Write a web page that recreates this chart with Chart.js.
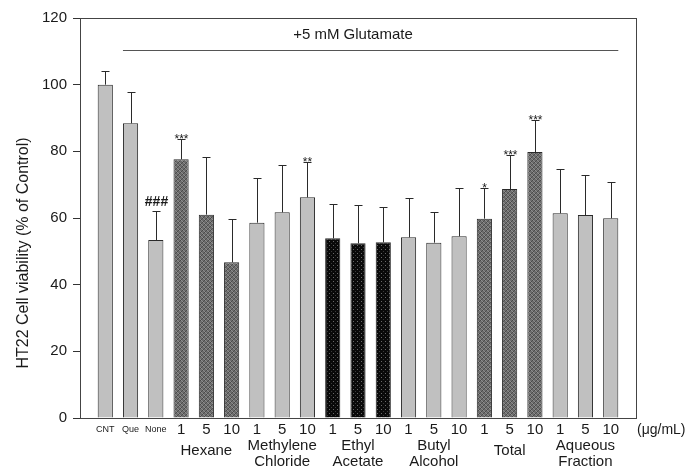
<!DOCTYPE html>
<html>
<head>
<meta charset="utf-8">
<script src="https://cdn.jsdelivr.net/npm/chart.js@4.4.1/dist/chart.umd.min.js"></script>
<style>
  html, body { margin: 0; padding: 0; background: #fff; }
  #wrap { width: 686px; height: 472px; position: relative; }
</style>
</head>
<body>
<div id="wrap"><canvas id="c" width="686" height="472"></canvas></div>
<script>
// ---- data ----
const categories = ['CNT','Que','None','1','5','10','1','5','10','1','5','10','1','5','10','1','5','10','1','5','10'];
const means  = [100, 88.4, 53.4, 77.6, 61.0, 46.7, 58.6, 61.7, 66.2, 53.9, 52.4, 52.7, 54.2, 52.6, 54.5, 59.8, 68.7, 79.8, 61.4, 60.9, 59.9];
const errors = [4.1, 9.3, 8.7, 6.0, 17.3, 13.0, 13.4, 14.1, 10.7, 10.3, 11.4, 10.5, 11.7, 9.3, 14.4, 9.1, 10.1, 9.7, 13.4, 12.1, 10.9];
const marks  = ['', '', '###', '***', '', '', '', '', '**', '', '', '', '', '', '', '*', '***', '***', '', '', ''];
const fillKind = ['gray','gray','gray','hatch','hatch','hatch','gray','gray','gray','dots','dots','dots','gray','gray','gray','hatch','hatch','hatch','gray','gray','gray'];
const groupNames = [['Hexane'], ['Methylene','Chloride'], ['Ethyl','Acetate'], ['Butyl','Alcohol'], ['Total'], ['Aqueous','Fraction']];
const groupCenters = [4, 7, 10, 13, 16, 19];
const yTicks = [0, 20, 40, 60, 80, 100, 120];
const unitLabel = '(\u03bcg/mL)';
const treatmentLabel = '+5 mM Glutamate';
const treatmentSpan = [1, 20];
const treatmentLevel = 110.4;
const yTitle = 'HT22 Cell viability (% of Control)';

// ---- patterns ----
function makePattern(kind) {
  const c = document.createElement('canvas');
  c.width = 4; c.height = 4;
  const g = c.getContext('2d');
  if (kind === 'hatch') {
    g.fillStyle = '#6c6c6c'; g.fillRect(0, 0, 4, 4);
    g.fillStyle = '#4a4a4a';
    [[0,0],[2,2],[3,1],[1,3]].forEach(([x,y]) => g.fillRect(x,y,1,1));
    g.fillStyle = '#8e8e8e';
    [[1,0],[3,2],[2,1],[0,3]].forEach(([x,y]) => g.fillRect(x,y,1,1));
  } else {
    g.fillStyle = '#0a0a0a'; g.fillRect(0, 0, 4, 4);
    g.fillStyle = '#6a6a6a';
    g.fillRect(1, 1, 1, 1);
    g.fillStyle = '#3a3a3a';
    g.fillRect(3, 3, 1, 1);
  }
  return g.createPattern(c, 'repeat');
}
const pats = { hatch: makePattern('hatch'), dots: makePattern('dots') };
const bgColors = fillKind.map(k => k === 'gray' ? '#c0c0c0' : pats[k]);

const FONT = '"Liberation Sans", Arial, sans-serif';
const TXT = '#1a1a1a';

const overlay = {
  id: 'overlay',
  afterDatasetsDraw(chart) {
    const ctx = chart.ctx, xs = chart.scales.x, ys = chart.scales.y, ca = chart.chartArea;
    ctx.save();
    // error bars
    ctx.strokeStyle = '#2a2a2a';
    ctx.lineWidth = 1;
    means.forEach((m, i) => {
      const x = Math.round(xs.getPixelForValue(i)) + 0.5;
      const y0 = ys.getPixelForValue(m);
      const y1 = Math.round(ys.getPixelForValue(m + errors[i])) + 0.5;
      ctx.beginPath();
      ctx.moveTo(x, y0); ctx.lineTo(x, y1);
      ctx.moveTo(x - 4, y1); ctx.lineTo(x + 4, y1);
      ctx.stroke();
      if (marks[i]) {
        ctx.fillStyle = TXT;
        ctx.textAlign = 'center';
        ctx.textBaseline = 'alphabetic';
        if (marks[i][0] === '#') {
          ctx.font = 'bold 14px ' + FONT;
          ctx.fillText(marks[i], x, y1 - 6);
        } else {
          ctx.font = '12px ' + FONT;
          ctx.fillText(marks[i], x, y1 + 3);
        }
      }
    });
    // frame
    ctx.strokeStyle = '#444';
    ctx.lineWidth = 1;
    ctx.strokeRect(Math.round(ca.left) + 0.5, Math.round(ca.top) + 0.5, Math.round(ca.right - ca.left), Math.round(ca.bottom - ca.top));
    // treatment line + label
    const bw = (xs.getPixelForValue(1) - xs.getPixelForValue(0)) * 0.6 / 2;
    const lx0 = xs.getPixelForValue(treatmentSpan[0]) - bw;
    const lx1 = xs.getPixelForValue(treatmentSpan[1]) + bw;
    const ly = Math.round(ys.getPixelForValue(treatmentLevel)) + 0.5;
    ctx.strokeStyle = '#555';
    ctx.beginPath(); ctx.moveTo(lx0, ly); ctx.lineTo(lx1, ly); ctx.stroke();
    ctx.fillStyle = TXT;
    ctx.font = '15px ' + FONT;
    ctx.textAlign = 'center';
    ctx.textBaseline = 'middle';
    ctx.fillText(treatmentLabel, xs.getPixelForValue(9.8), ly - 16);
    // x labels
    categories.forEach((c, i) => {
      const x = xs.getPixelForValue(i);
      ctx.font = (i < 3 ? '9px ' : '15px ') + FONT;
      ctx.textAlign = 'center';
      ctx.textBaseline = 'middle';
      ctx.fillText(c, x, 430);
    });
    ctx.font = '14px ' + FONT;
    ctx.textAlign = 'left';
    ctx.fillText(unitLabel, ca.right + 1, 430);
    ctx.font = '15px ' + FONT;
    ctx.textAlign = 'center';
    groupNames.forEach((g, k) => {
      const x = xs.getPixelForValue(groupCenters[k]);
      if (g.length === 1) {
        ctx.fillText(g[0], x, 451);
      } else {
        ctx.fillText(g[0], x, 446);
        ctx.fillText(g[1], x, 462);
      }
    });
    // y title
    ctx.save();
    ctx.translate(24, 253);
    ctx.rotate(-Math.PI / 2);
    ctx.font = '16px ' + FONT;
    ctx.textAlign = 'center';
    ctx.textBaseline = 'middle';
    ctx.fillText(yTitle, 0, 0);
    ctx.restore();
    ctx.restore();
  }
};

new Chart(document.getElementById('c'), {
  type: 'bar',
  data: {
    datasets: [{
      data: means.map((v, i) => ({ x: i, y: v })),
      backgroundColor: bgColors,
      borderColor: '#2a2a2a',
      borderWidth: 1,
      barPercentage: 0.6,
      categoryPercentage: 1.0
    }]
  },
  options: {
    responsive: false,
    animation: false,
    layout: { padding: { left: 0, right: 50, top: 18, bottom: 54 } },
    plugins: { legend: { display: false }, tooltip: { enabled: false } },
    scales: {
      x: {
        type: 'linear', min: -1, max: 21, offset: false, display: false,
        grid: { display: false, offset: false }
      },
      y: {
        min: 0, max: 120,
        afterFit(s) { s.width = 80; },
        afterBuildTicks(s) { s.ticks = yTicks.map(v => ({ value: v })); },
        grid: { drawOnChartArea: false, drawTicks: true, tickLength: 7, color: '#333' },
        border: { color: '#333' },
        ticks: { padding: 6, color: TXT, font: { family: FONT, size: 15 } }
      }
    }
  },
  plugins: [overlay]
});
</script>
</body>
</html>
